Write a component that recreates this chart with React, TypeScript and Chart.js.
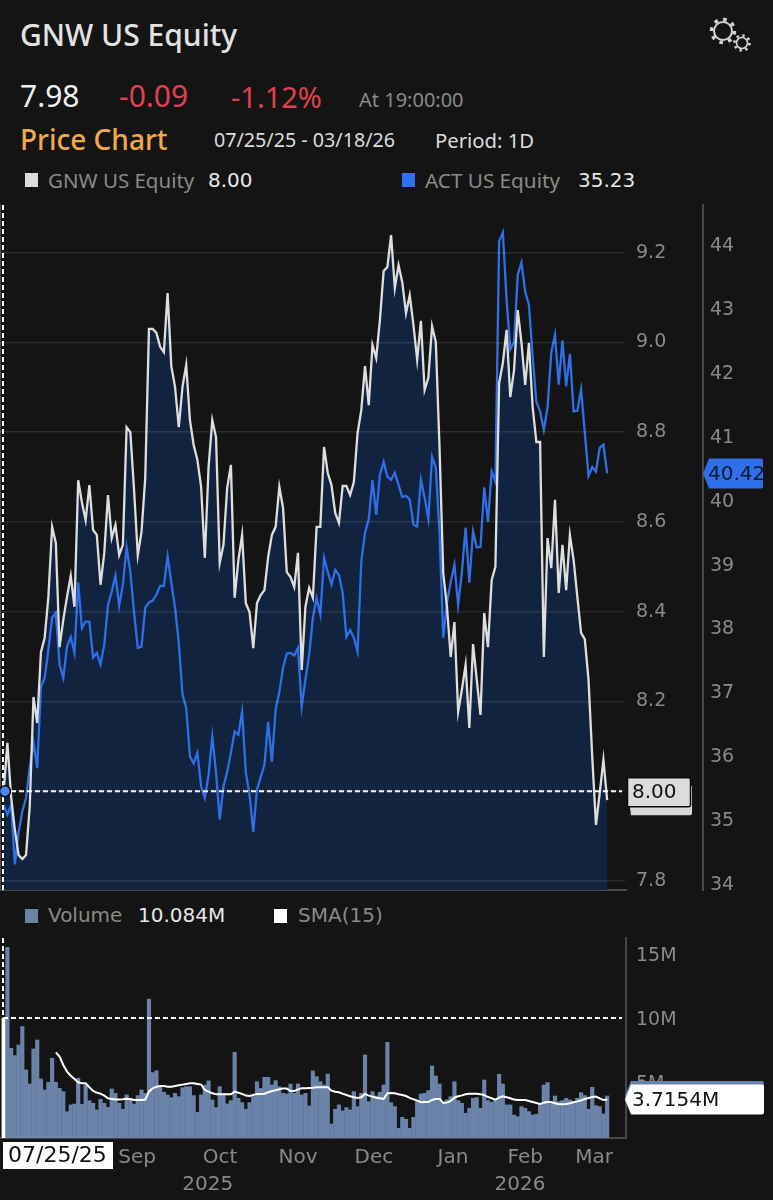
import { useEffect, useRef } from "react"
import { Chart, registerables } from "chart.js"

Chart.register(...registerables)

// one entry per trading day
const gnwPrice = [
  8.0, 8.108, 7.987, 7.914, 7.858, 7.849, 7.858, 7.967, 8.21, 8.152, 8.31, 8.342, 8.433, 8.589, 8.553, 8.321, 8.382, 8.433, 8.48, 8.411,
  8.693, 8.644, 8.604, 8.682, 8.582, 8.571, 8.46, 8.531, 8.66, 8.564, 8.593, 8.526, 8.549, 8.811, 8.8, 8.671, 8.526, 8.578, 8.698, 9.03,
  9.03, 9.021, 8.99, 8.978, 9.11, 8.947, 8.901, 8.811, 8.901, 8.95, 8.827, 8.771, 8.738, 8.678, 8.52, 8.722, 8.827, 8.789, 8.509, 8.549,
  8.676, 8.727, 8.431, 8.515, 8.571, 8.419, 8.399, 8.319, 8.419, 8.437, 8.448, 8.522, 8.571, 8.589, 8.678, 8.631, 8.488, 8.477, 8.455, 8.531,
  8.27, 8.411, 8.453, 8.431, 8.589, 8.589, 8.767, 8.709, 8.682, 8.62, 8.598, 8.68, 8.68, 8.66, 8.689, 8.798, 8.849, 8.947, 8.86, 8.994,
  8.965, 9.05, 9.159, 9.168, 9.239, 9.121, 9.172, 9.134, 9.065, 9.105, 9.039, 8.961, 9.048, 8.894, 8.921, 9.036, 9.001, 8.767, 8.486, 8.411,
  8.299, 8.377, 8.177, 8.226, 8.281, 8.141, 8.328, 8.248, 8.17, 8.397, 8.321, 8.471, 8.5, 8.909, 8.954, 9.028, 8.878, 8.938, 9.072, 8.999,
  8.905, 8.999, 8.856, 8.778, 8.778, 8.299, 8.564, 8.497, 8.649, 8.442, 8.549, 8.448, 8.571, 8.515, 8.433, 8.353, 8.339, 8.248, 8.076, 7.925,
  7.996, 8.07, 7.98,
]

const actPrice = [
  35.23, 35.08, 35.23, 34.3, 34.8, 35.13, 35.34, 35.83, 36.21, 35.81, 37.08, 37.22, 37.66, 38.16, 38.24, 37.43, 37.22, 37.71, 37.86, 37.61,
  38.71, 38.0, 38.1, 38.1, 37.54, 37.61, 37.43, 37.74, 38.36, 38.57, 38.82, 38.35, 38.68, 39.26, 38.88, 38.24, 37.69, 37.71, 38.32, 38.4,
  38.43, 38.52, 38.66, 38.66, 39.12, 38.71, 38.32, 37.77, 36.96, 36.75, 35.99, 35.88, 36.05, 35.52, 35.34, 35.7, 36.3, 35.74, 35.0, 35.52,
  35.75, 36.05, 36.38, 36.33, 36.69, 35.74, 35.39, 34.81, 35.47, 35.67, 35.86, 36.53, 35.91, 36.72, 37.0, 37.38, 37.6, 37.61, 37.57, 37.69,
  36.77, 37.19, 37.58, 38.16, 38.47, 38.21, 39.1, 38.88, 38.68, 38.91, 38.83, 38.55, 37.86, 37.97, 37.85, 37.63, 39.04, 39.49, 39.7, 40.32,
  39.77, 40.4, 40.6, 40.37, 40.32, 40.43, 40.24, 40.05, 40.07, 40.01, 39.62, 39.59, 40.32, 40.04, 39.71, 40.68, 40.51, 39.49, 37.85, 38.4,
  38.72, 38.99, 38.36, 38.87, 39.57, 38.71, 39.51, 39.26, 39.27, 40.2, 39.66, 40.45, 40.29, 44.05, 44.19, 43.14, 42.36, 42.47, 43.53, 43.72,
  43.26, 43.06, 42.25, 41.54, 41.39, 41.1, 41.45, 42.31, 42.59, 41.81, 42.5, 41.78, 42.29, 41.39, 41.4, 41.73, 41.06, 40.38, 40.52, 40.45,
  40.82, 40.87, 40.42,
]

// millions of shares
const volume = [
  10.084, 15.62, 7.72, 7.15, 7.98, 9.42, 6.03, 4.93, 7.67, 8.37, 5.32, 4.46, 5.06, 6.94, 5.06, 4.59, 4.33, 2.76, 3.29, 3.36,
  5.37, 3.34, 4.85, 3.62, 3.42, 2.9, 3.73, 3.42, 3.1, 4.54, 4.2, 3.42, 2.95, 4.07, 3.81, 3.36, 4.02, 4.46, 4.2, 11.58,
  5.82, 5.97, 4.72, 4.28, 4.07, 3.86, 4.2, 3.94, 4.64, 4.72, 4.72, 4.02, 2.71, 4.07, 4.85, 5.17, 3.68, 3.08, 4.72, 4.2,
  3.37, 3.63, 7.41, 3.81, 3.47, 2.95, 3.47, 3.94, 5.11, 4.59, 5.45, 5.45, 4.85, 5.19, 4.72, 4.2, 4.15, 4.93, 4.2, 4.93,
  4.07, 4.2, 3.21, 5.95, 5.5, 5.11, 4.85, 5.71, 1.8, 2.95, 3.29, 2.82, 3.08, 2.9, 4.33, 3.16, 4.2, 7.2, 3.55, 4.33,
  3.99, 4.28, 4.85, 8.19, 3.47, 3.16, 1.46, 2.32, 2.17, 1.46, 2.32, 3.55, 4.15, 4.2, 4.41, 6.34, 5.56, 4.93, 3.55, 3.68,
  3.94, 5.11, 3.63, 3.42, 2.64, 3.03, 3.81, 3.86, 3.03, 5.24, 3.63, 3.5, 3.68, 5.69, 4.93, 3.29, 3.29, 2.5, 2.37, 3.16,
  3.03, 2.77, 2.5, 2.56, 3.42, 4.85, 5.04, 3.42, 3.99, 3.55, 3.63, 3.81, 3.68, 3.55, 3.81, 4.25, 4.02, 2.95, 4.67, 3.24,
  3.16, 2.58, 3.99,
]

// SMA(15) has no value for the first 14 days
const sma15 = [
  null, null, null, null, null, null, null, null, null, null, null, null, null, null,
  7.41, 7.07, 6.42, 5.9, 5.58, 5.32,
  5.06, 4.98, 4.98, 4.67, 4.38, 4.25, 4.17, 4.02, 3.81, 3.76, 3.71, 3.71, 3.73, 3.78, 3.76, 3.68, 3.68, 3.68, 3.71, 4.33,
  4.59, 4.72, 4.77, 4.77, 4.72, 4.72, 4.77, 4.83, 4.88, 4.93, 4.98, 4.98, 4.93, 4.88, 4.46, 4.33, 4.2, 4.12, 4.12, 4.12,
  4.12, 4.12, 4.33, 4.25, 4.15, 4.02, 3.99, 4.07, 4.15, 4.15, 4.17, 4.28, 4.38, 4.44, 4.51, 4.57, 4.57, 4.38, 4.38, 4.51,
  4.59, 4.59, 4.62, 4.64, 4.67, 4.67, 4.67, 4.67, 4.41, 4.33, 4.28, 4.17, 4.07, 3.97, 3.89, 3.84, 3.89, 4.15, 4.02, 3.94,
  3.86, 3.81, 3.76, 4.2, 4.23, 4.2, 4.12, 4.07, 3.99, 3.84, 3.73, 3.63, 3.5, 3.52, 3.52, 3.68, 3.76, 3.78, 3.44, 3.47,
  3.6, 3.86, 3.97, 4.04, 4.12, 4.17, 4.17, 4.17, 4.12, 4.07, 3.91, 3.81, 3.71, 3.86, 3.97, 3.89, 3.81, 3.71, 3.68, 3.68,
  3.68, 3.6, 3.52, 3.44, 3.37, 3.47, 3.52, 3.52, 3.42, 3.34, 3.34, 3.37, 3.42, 3.5, 3.57, 3.65, 3.76, 3.84, 3.91, 3.94,
  3.81, 3.68, 3.7154,
]

const priceTicks = [7.8, 8.0, 8.2, 8.4, 8.6, 8.8, 9.0, 9.2]
const actTicks = [34, 35, 36, 37, 38, 39, 40, 41, 42, 43, 44]
const volumeTicks = [5, 10, 15]
const monthLabels = ["Sep", "Oct", "Nov", "Dec", "Jan", "Feb", "Mar"]
const monthTickDays = [35.8, 58.1, 79.0, 99.4, 120.6, 140, 158.5]
const yearLabels = ["2025", "2026"]
const yearTickDays = [54.8, 138.6]

const days = gnwPrice.map((_, i) => i)
const xMin = -0.99
const xMax = 167.06

const BG = "#141414"
const NAVY = "#12233f"
const BLUE = "#2f6fe8"
const LINE_WHITE = "#dedede"
const VOL_BLUE = "#6b82a9"
const GREY = "#8a8a8a"
const AXIS = "#484848"
const FONT = "'Noto Sans', sans-serif"
const DEJAVU = "'DejaVu Sans', sans-serif"

// tag with a point on its left, like the ones on the value axes
function drawTag(ctx: CanvasRenderingContext2D, x: number, y: number, w: number, h: number, tip: number, fill: string, border?: string) {
  const t = y - h / 2
  const r = 2
  ctx.beginPath()
  ctx.moveTo(x + tip, t)
  ctx.lineTo(x + w - r, t)
  ctx.quadraticCurveTo(x + w, t, x + w, t + r)
  ctx.lineTo(x + w, t + h - r)
  ctx.quadraticCurveTo(x + w, t + h, x + w - r, t + h)
  ctx.lineTo(x + tip, t + h)
  if (tip > 0) ctx.lineTo(x, y)
  ctx.closePath()
  ctx.fillStyle = fill
  ctx.fill()
  if (border) {
    ctx.strokeStyle = border
    ctx.lineWidth = 1.5
    ctx.stroke()
  }
}

function tagText(ctx: CanvasRenderingContext2D, text: string, x: number, y: number, color: string) {
  ctx.fillStyle = color
  ctx.font = `20px ${DEJAVU}`
  ctx.textAlign = "left"
  ctx.textBaseline = "middle"
  ctx.fillText(text, x, y + 1)
}

function crosshair(ctx: CanvasRenderingContext2D, x1: number, y1: number, x2: number, y2: number) {
  ctx.save()
  ctx.strokeStyle = "#ffffff"
  ctx.lineWidth = 2
  ctx.setLineDash([5, 3])
  ctx.beginPath()
  ctx.moveTo(x1, y1)
  ctx.lineTo(x2, y2)
  ctx.stroke()
  ctx.restore()
}

// the value labels may overhang the plot, so no padding is reserved for them
const noLabelPadding = (s: any) => {
  s.paddingTop = 0
  s.paddingBottom = 0
  s.paddingLeft = 0
  s.paddingRight = 0
}

const priceOverlay = {
  id: "priceOverlay",
  afterDraw(chart: any) {
    const { ctx, chartArea, scales } = chart
    const cy = scales.y.getPixelForValue(gnwPrice[0])
    const cx = scales.x.getPixelForValue(days[0]) - 0.7
    ctx.save()
    crosshair(ctx, cx, chartArea.top, cx, chartArea.bottom)
    crosshair(ctx, cx, cy, chartArea.right - 4, cy)

    // marker on the first day
    ctx.beginPath()
    ctx.arc(cx + 2, cy, 5.5, 0, Math.PI * 2)
    ctx.fillStyle = "#4a86f0"
    ctx.fill()
    ctx.strokeStyle = "#0b0b0b"
    ctx.lineWidth = 1.5
    ctx.stroke()

    // last close sits behind the crosshair value
    const lastY = scales.y.getPixelForValue(gnwPrice[gnwPrice.length - 1])
    drawTag(ctx, 629, lastY, 63, 30, 2, "#d8d8d8")
    tagText(ctx, gnwPrice[gnwPrice.length - 1].toFixed(2), 634, lastY, "#111")
    drawTag(ctx, 627.5, cy + 1, 63, 29, 0, "#dcdcdc", "#0a0a0a")
    tagText(ctx, gnwPrice[0].toFixed(2), 632, cy + 1, "#111")

    const actY = scales.y1.getPixelForValue(actPrice[actPrice.length - 1])
    drawTag(ctx, 703, actY, 60, 30, 6, "#2f6fe8")
    tagText(ctx, actPrice[actPrice.length - 1].toFixed(2), 708, actY, "#0c1a33")
    ctx.restore()
  },
}

const volumeOverlay = {
  id: "volumeOverlay",
  afterDraw(chart: any) {
    const { ctx, chartArea, scales } = chart
    const cy = scales.y.getPixelForValue(volume[0])
    const cx = scales.x.getPixelForValue(days[0]) - 0.7
    ctx.save()
    crosshair(ctx, cx, chartArea.top, cx, cy)
    crosshair(ctx, cx, cy, chartArea.right - 4, cy)

    const barY = scales.y.getPixelForValue(volume[volume.length - 1])
    drawTag(ctx, 625, barY, 139, 30, 6, VOL_BLUE)
    const smaY = scales.y.getPixelForValue(sma15[sma15.length - 1])
    drawTag(ctx, 625, smaY, 139, 30, 6, "#ffffff")
    tagText(ctx, "3.7154M", 632, smaY, "#111")

    // date tag under the first bar
    ctx.fillStyle = "#ffffff"
    ctx.fillRect(3, chartArea.bottom + 4, 110, 27)
    ctx.fillStyle = "#111"
    ctx.font = `22px ${DEJAVU}`
    ctx.textAlign = "left"
    ctx.textBaseline = "middle"
    ctx.fillText("07/25/25", 8, chartArea.bottom + 18)
    ctx.restore()
  },
}

function PriceChart() {
  const canvasRef = useRef<HTMLCanvasElement>(null)

  useEffect(() => {
    if (!canvasRef.current) return
    const chart = new Chart(canvasRef.current, {
      type: "line",
      data: {
        labels: days,
        datasets: [
          {
            // area only, so the blue line stays on top of it
            label: "GNW area",
            data: days.map((d) => ({ x: d, y: gnwPrice[d] })),
            yAxisID: "y",
            borderWidth: 0,
            backgroundColor: NAVY,
            fill: "start",
            pointRadius: 0,
            order: 3,
          },
          {
            label: "ACT US Equity",
            data: days.map((d) => ({ x: d, y: actPrice[d] })),
            yAxisID: "y1",
            borderColor: BLUE,
            borderWidth: 2.3,
            fill: false,
            pointRadius: 0,
            tension: 0,
            borderJoinStyle: "miter",
            order: 2,
          },
          {
            label: "GNW US Equity",
            data: days.map((d) => ({ x: d, y: gnwPrice[d] })),
            yAxisID: "y",
            borderColor: LINE_WHITE,
            borderWidth: 2.3,
            fill: false,
            pointRadius: 0,
            tension: 0,
            borderJoinStyle: "miter",
            order: 1,
          },
        ],
      },
      plugins: [priceOverlay],
      options: {
        animation: false,
        responsive: false,
        events: [],
        layout: { autoPadding: false, padding: { top: 5, bottom: 10, left: 0, right: 0 } },
        plugins: { legend: { display: false }, tooltip: { enabled: false } },
        scales: {
          x: {
            type: "linear",
            min: xMin,
            max: xMax,
            afterFit: noLabelPadding,
            grid: { display: false, drawTicks: false },
            border: { color: AXIS, width: 2 },
            ticks: { display: false },
          },
          y: {
            position: "right",
            weight: 0,
            min: 7.78,
            max: 9.306,
            afterBuildTicks: (s: any) => {
              s.ticks = priceTicks.map((value) => ({ value }))
            },
            afterFit: (s: any) => {
              s.width = 77
              noLabelPadding(s)
            },
            grid: { color: "rgba(255,255,255,0.1)", drawTicks: false, z: 1, lineWidth: 1.5 },
            border: { color: AXIS, width: 2 },
            ticks: {
              color: GREY,
              padding: 10,
              labelOffset: 0,
              font: { family: DEJAVU, size: 19 },
              callback: (v: any) => Number(v).toFixed(1),
            },
          },
          y1: {
            position: "right",
            weight: 1,
            min: 33.9,
            max: 44.62,
            afterBuildTicks: (s: any) => {
              s.ticks = actTicks.map((value) => ({ value }))
            },
            afterFit: (s: any) => {
              s.width = 70
              noLabelPadding(s)
            },
            grid: { display: false, drawTicks: false },
            border: { color: AXIS, width: 2 },
            ticks: {
              color: GREY,
              padding: 7,
              labelOffset: 1.5,
              font: { family: DEJAVU, size: 19 },
              callback: (v: any) => String(v),
            },
          },
        },
      },
    } as any)
    return () => chart.destroy()
  }, [])

  return <canvas ref={canvasRef} width={773} height={700} style={{ position: "absolute", left: 0, top: 200 }} />
}

function VolumeChart() {
  const canvasRef = useRef<HTMLCanvasElement>(null)

  useEffect(() => {
    if (!canvasRef.current) return
    const chart = new Chart(canvasRef.current, {
      type: "bar",
      data: {
        labels: days,
        datasets: [
          {
            type: "line",
            label: "SMA(15)",
            data: days.map((d) => ({ x: d, y: sma15[d] })),
            borderColor: "#ffffff",
            borderWidth: 2,
            pointRadius: 0,
            tension: 0,
            spanGaps: false,
            order: 1,
          },
          {
            label: "Volume",
            data: days.map((d) => ({ x: d, y: volume[d] })),
            backgroundColor: days.map((d) => (d === 0 ? "#ffffff" : VOL_BLUE)),
            barThickness: 3.5,
            order: 2,
          },
        ],
      },
      plugins: [volumeOverlay],
      options: {
        animation: false,
        responsive: false,
        events: [],
        layout: { autoPadding: false, padding: { top: 8, bottom: 0, left: 0, right: 70 } },
        plugins: { legend: { display: false }, tooltip: { enabled: false } },
        scales: {
          x: {
            type: "linear",
            min: xMin,
            max: xMax,
            offset: false,
            weight: 0,
            afterBuildTicks: (s: any) => {
              s.ticks = monthTickDays.map((value) => ({ value }))
            },
            afterFit: (s: any) => {
              s.height = 31
              noLabelPadding(s)
            },
            grid: { display: false, drawTicks: false },
            border: { color: AXIS, width: 2 },
            ticks: {
              color: GREY,
              padding: 8,
              maxRotation: 0,
              autoSkip: false,
              font: { family: DEJAVU, size: 20 },
              callback: (_: any, i: number) => monthLabels[i],
            },
          },
          xYear: {
            type: "linear",
            position: "bottom",
            min: xMin,
            max: xMax,
            offset: false,
            weight: 1,
            afterBuildTicks: (s: any) => {
              s.ticks = yearTickDays.map((value) => ({ value }))
            },
            afterFit: (s: any) => {
              s.height = 31
              noLabelPadding(s)
            },
            grid: { display: false, drawTicks: false, offset: false },
            border: { display: false },
            ticks: {
              color: GREY,
              padding: 4,
              maxRotation: 0,
              autoSkip: false,
              font: { family: DEJAVU, size: 20 },
              callback: (_: any, i: number) => yearLabels[i],
            },
          },
          y: {
            position: "right",
            min: 0.704,
            max: 16.35,
            afterBuildTicks: (s: any) => {
              s.ticks = volumeTicks.map((value) => ({ value }))
            },
            afterFit: (s: any) => {
              s.width = 77
              noLabelPadding(s)
            },
            grid: { display: false, drawTicks: false },
            border: { color: AXIS, width: 2 },
            ticks: {
              color: GREY,
              padding: 10,
              labelOffset: 0.5,
              font: { family: DEJAVU, size: 19 },
              callback: (v: any) => `${v}M`,
            },
          },
        },
      },
    } as any)
    return () => chart.destroy()
  }, [])

  return <canvas ref={canvasRef} width={773} height={270} style={{ position: "absolute", left: 0, top: 930 }} />
}

function Label({ x, y, size, color, children, weight, family }: { x: number; y: number; size: number; color: string; children: string; weight?: number; family?: string }) {
  return (
    <span
      style={{
        position: "absolute",
        left: x,
        top: y,
        transform: "translateY(-50%)",
        fontFamily: family ?? FONT,
        fontSize: size,
        fontWeight: weight ?? 400,
        color,
        whiteSpace: "nowrap",
        lineHeight: 1,
      }}
    >
      {children}
    </span>
  )
}

function Swatch({ x, y, color }: { x: number; y: number; color: string }) {
  return <div style={{ position: "absolute", left: x, top: y, width: 13, height: 14, background: color }} />
}

function Gears() {
  return (
    <svg width={50} height={44} viewBox="0 0 50 44" style={{ position: "absolute", left: 705, top: 14 }} fill="none" stroke="#d4d4d4">
      <circle cx={18} cy={17} r={9} strokeWidth={2} />
      <circle cx={18} cy={17} r={11.5} strokeWidth={3.5} strokeDasharray="3.6 5.4" />
      <circle cx={37} cy={29} r={5.5} strokeWidth={1.6} />
      <circle cx={37} cy={29} r={7.5} strokeWidth={2.6} strokeDasharray="2.4 3.5" />
    </svg>
  )
}

export default function App() {
  useEffect(() => {
    document.body.style.margin = "0"
    document.body.style.background = BG
  }, [])

  return (
    <div style={{ position: "relative", width: 773, height: 1200, background: BG, overflow: "hidden" }}>
      <Label x={20} y={35} size={30} color="#e2e2e2" weight={500}>GNW US Equity</Label>
      <Gears />
      <Label x={20} y={96} size={30} color="#f0f0f0">7.98</Label>
      <Label x={119} y={96} size={30} color="#e0404f">-0.09</Label>
      <Label x={231} y={96} size={29} color="#e0404f">-1.12%</Label>
      <Label x={359} y={100} size={20} color={GREY}>At 19:00:00</Label>
      <Label x={20} y={139} size={28} color="#f2a84b" weight={500}>Price Chart</Label>
      <Label x={214} y={140} size={19.7} color="#dddddd">07/25/25 - 03/18/26</Label>
      <Label x={435} y={140} size={20.3} color="#dddddd">Period: 1D</Label>

      <Swatch x={25} y={173} color="#dcdcdc" />
      <Label x={48} y={180} size={20.5} color={GREY}>GNW US Equity</Label>
      <Label x={208} y={180} size={20} color="#e8e8e8" family={DEJAVU}>8.00</Label>
      <Swatch x={402} y={173} color="#2f6ff5" />
      <Label x={425} y={180} size={20.7} color={GREY}>ACT US Equity</Label>
      <Label x={578} y={180} size={20} color="#e8e8e8" family={DEJAVU}>35.23</Label>

      <PriceChart />

      <Swatch x={25} y={909} color={VOL_BLUE} />
      <Label x={48} y={915} size={20} color={GREY} family={DEJAVU}>Volume</Label>
      <Label x={138} y={915} size={20} color="#e8e8e8" family={DEJAVU}>10.084M</Label>
      <Swatch x={274} y={909} color="#ffffff" />
      <Label x={298} y={915} size={20} color={GREY} family={DEJAVU}>SMA(15)</Label>

      <VolumeChart />
    </div>
  )
}
